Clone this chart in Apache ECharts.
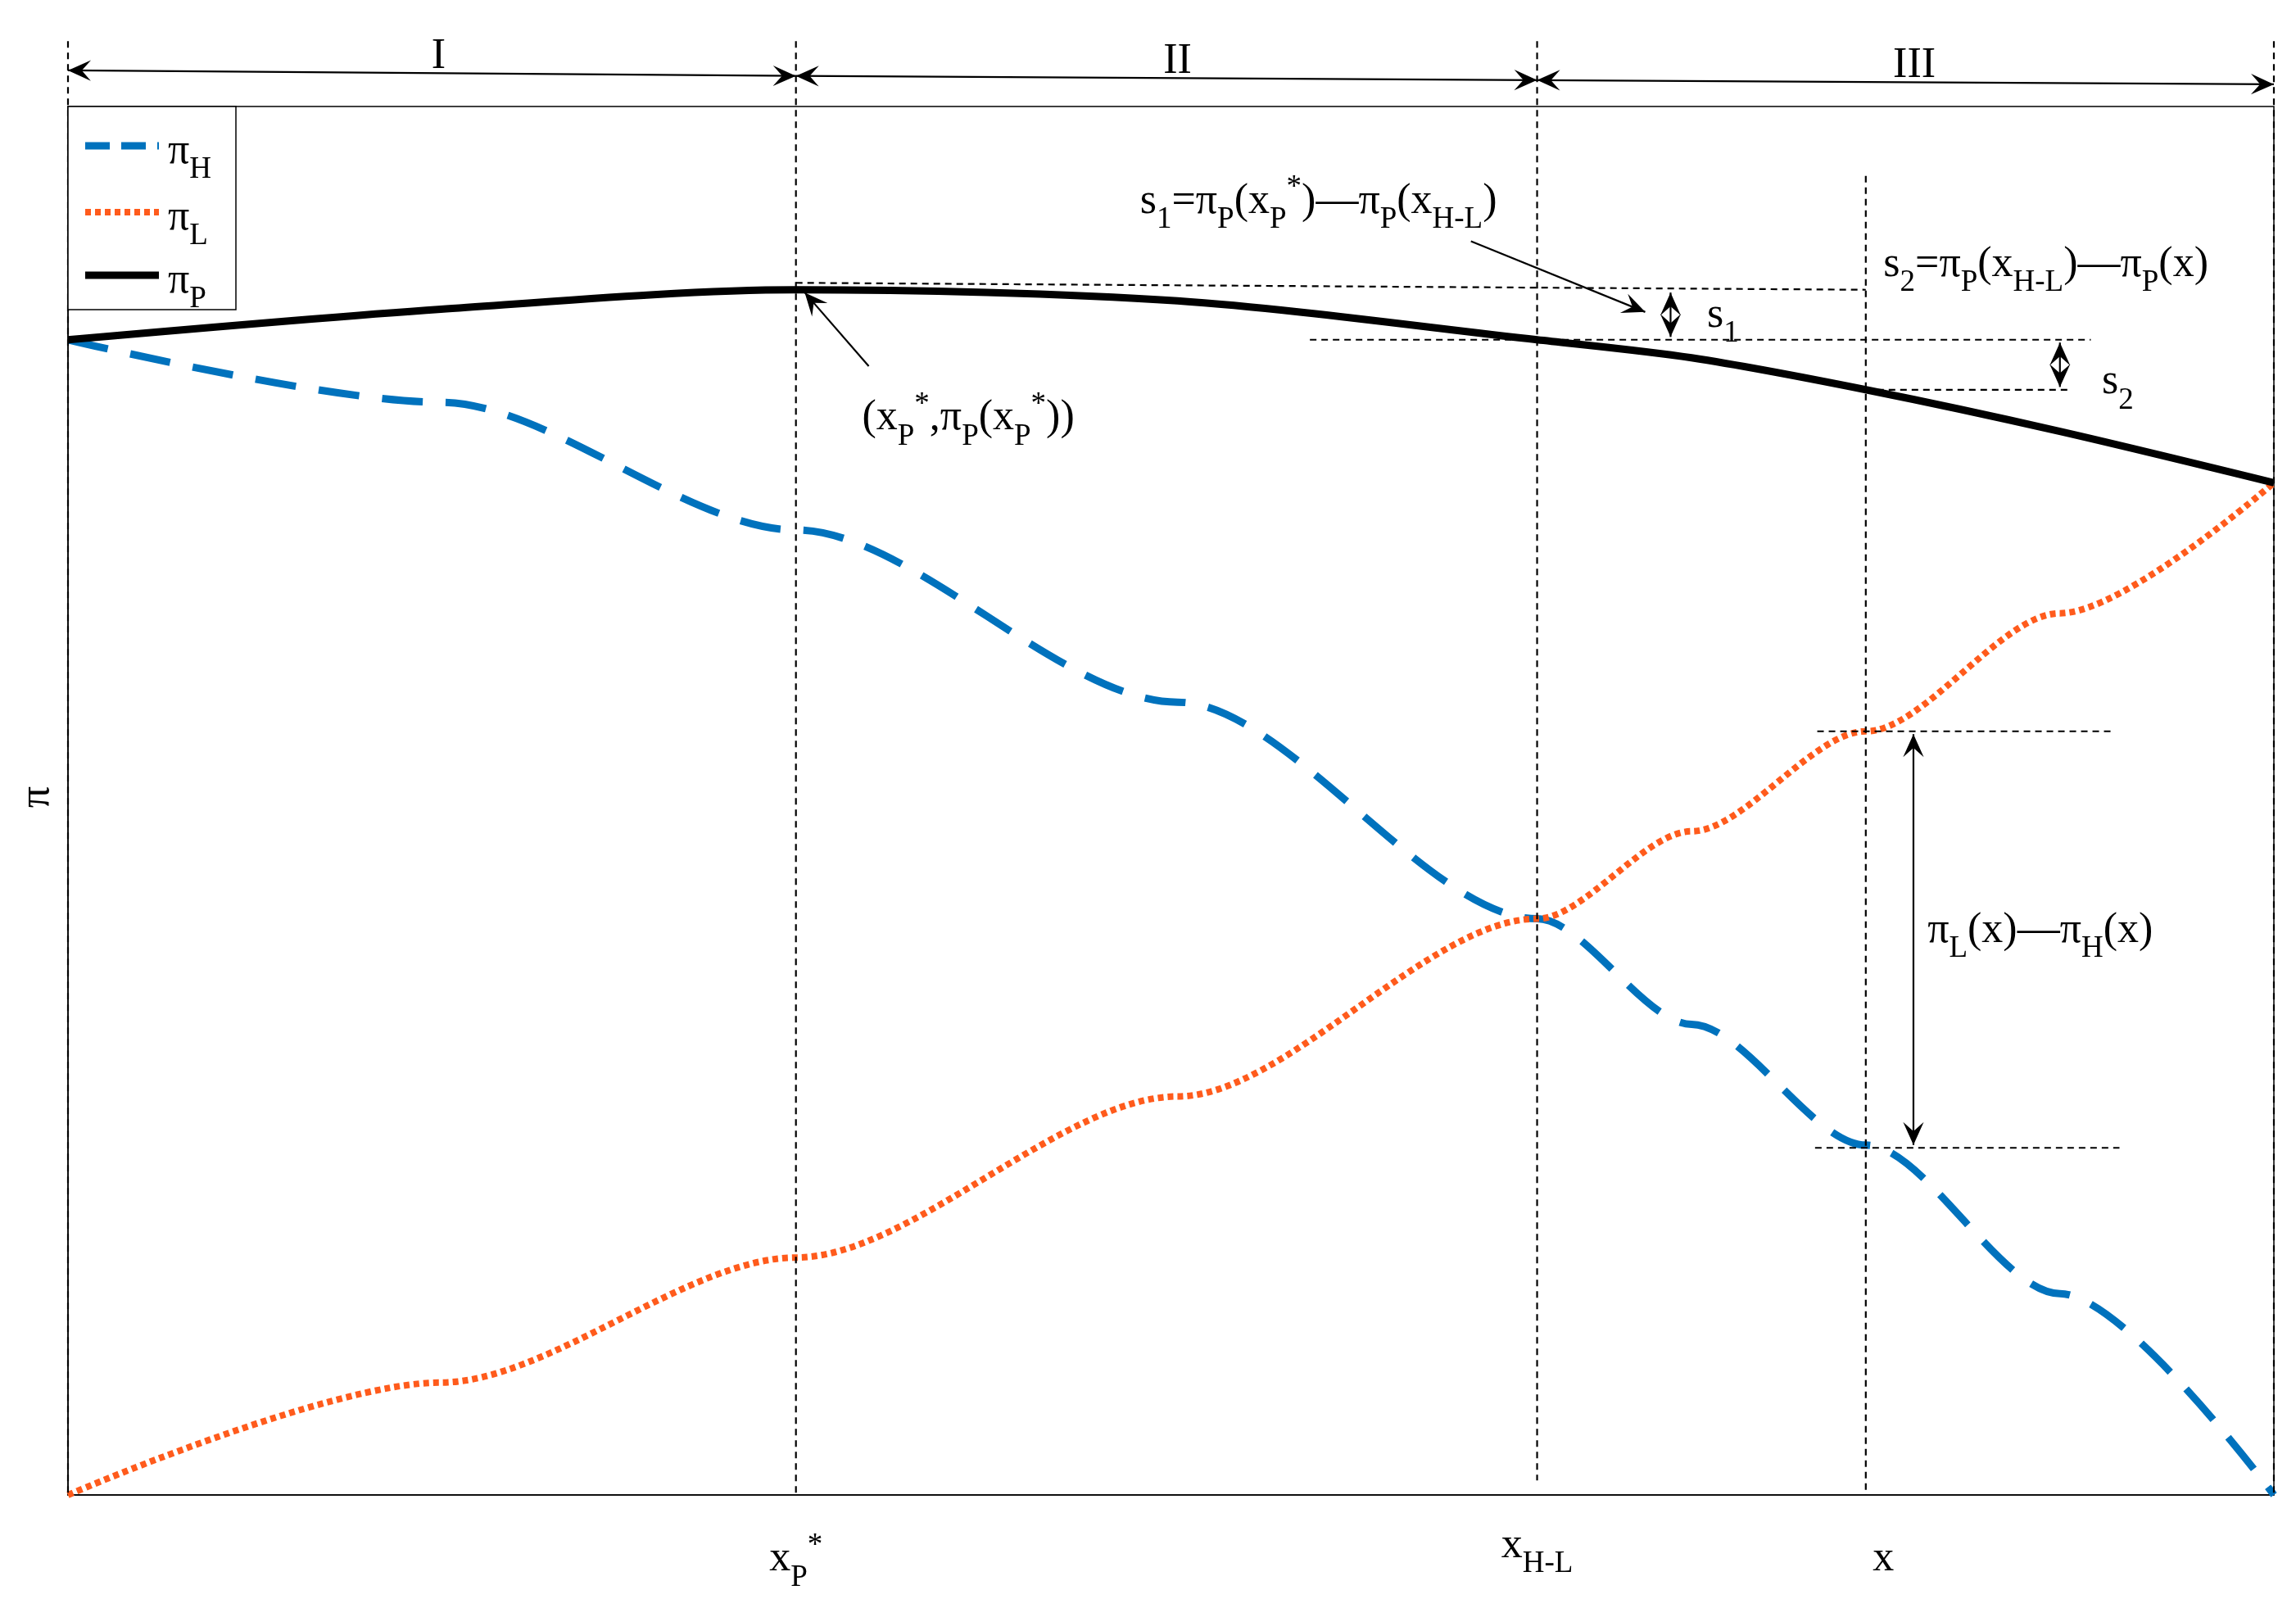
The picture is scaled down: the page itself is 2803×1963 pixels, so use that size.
<!DOCTYPE html>
<html><head><meta charset="utf-8">
<script src="https://cdn.jsdelivr.net/npm/echarts@6/dist/echarts.min.js"></script>
<style>html,body{margin:0;background:#fff}#c{width:2803px;height:1963px}</style>
</head><body><div id="c"></div>
<script>
// x 位置 (0..1) 与三条曲线取值
var xs  = [0, 0.169, 0.33, 0.503, 0.666, 0.736, 0.815, 0.903, 1];
var piH = [0.832, 0.787, 0.695, 0.571, 0.415, 0.339, 0.252, 0.145, 0];
var piL = [0, 0.081, 0.171, 0.287, 0.415, 0.478, 0.550, 0.635, 0.729];
var piP = [0.832, 0.854, 0.868, 0.860, 0.832, 0.819, 0.796, 0.766, 0.729];
var xStar = 0.33, xHL = 0.666, xX = 0.815;

var FONT = 'Liberation Serif';
function pairs(ys) { return xs.map(function (x, i) { return [x, ys[i]]; }); }

var chart = echarts.init(document.getElementById('c'));
chart.setOption({
    animation: false,
    grid: {left: 83, right: 27, top: 130, bottom: 138, show: true, borderColor: '#000', borderWidth: 1.5},
    xAxis: {type: 'value', min: 0, max: 1, axisLabel: {show: false}, axisTick: {show: false}, splitLine: {show: false},
        axisLine: {lineStyle: {color: '#000', width: 1.5}}},
    yAxis: {type: 'value', min: 0, max: 1, axisLabel: {show: false}, axisTick: {show: false}, splitLine: {show: false},
        axisLine: {lineStyle: {color: '#000', width: 1.5}}},
    series: [
        {type: 'line', smooth: 0.3, smoothMonotone: 'x', symbol: 'none', data: pairs(piH), z: 3,
            lineStyle: {color: '#0072bd', width: 9, type: [50, 28]}},
        {type: 'line', smooth: 0.3, smoothMonotone: 'x', symbol: 'none', data: pairs(piL), z: 3,
            lineStyle: {color: '#ff5b1c', width: 8, type: [7, 5]}},
        {type: 'line', smooth: 0.3, symbol: 'none', data: pairs(piP), z: 4,
            lineStyle: {color: '#000', width: 9}}
    ]
});

function P(x, y) { return chart.convertToPixel({gridIndex: 0}, [x, y]); }
var g = [];
function dline(a, b) {
    g.push({type: 'line', shape: {x1: a[0], y1: a[1], x2: b[0], y2: b[1]},
        style: {stroke: '#000', lineWidth: 2.2, lineDash: [8, 6]}, z: 5});
}
function head(a, b, len) {
    var ang = Math.atan2(b[1] - a[1], b[0] - a[0]), w = len * 0.45;
    g.push({type: 'polygon', shape: {points: [b,
        [b[0] - len * Math.cos(ang) + w * Math.sin(ang), b[1] - len * Math.sin(ang) - w * Math.cos(ang)],
        [b[0] - len * 0.6 * Math.cos(ang), b[1] - len * 0.6 * Math.sin(ang)],
        [b[0] - len * Math.cos(ang) - w * Math.sin(ang), b[1] - len * Math.sin(ang) + w * Math.cos(ang)]]},
        style: {fill: '#000'}, z: 6});
}
function arrow(a, b, both) {
    g.push({type: 'line', shape: {x1: a[0], y1: a[1], x2: b[0], y2: b[1]}, style: {stroke: '#000', lineWidth: 2.2}, z: 6});
    head(a, b, 28);
    if (both) head(b, a, 28);
}
var rich = {
    n: {fontFamily: FONT, fontSize: 52, lineHeight: 74, verticalAlign: 'bottom'},
    s: {fontFamily: FONT, fontSize: 37, lineHeight: 74, verticalAlign: 'bottom', padding: [0, 0, -15, 0]},
    u: {fontFamily: FONT, fontSize: 37, lineHeight: 74, verticalAlign: 'bottom', padding: [0, 0, 24, 0]}
};
function txt(p, text, align) {
    g.push({type: 'text', x: p[0], y: p[1], z: 7,
        style: {text: text, rich: rich, align: align || 'left', verticalAlign: 'middle', fill: '#000'}});
}

// 竖直虚线
dline(P(0, 1.047), P(0, 0));
dline(P(xStar, 1.047), P(xStar, 0));
dline(P(xHL, 1.047), P(xHL, 0.0105));
dline(P(xX, 0.95), P(xX, 0));
dline(P(1, 1.047), P(1, 0));
// 顶部区间箭头
arrow(P(0.0, 1.026), P(xStar, 1.022), true);
arrow(P(xStar, 1.022), P(xHL, 1.019), true);
arrow(P(xHL, 1.019), P(1, 1.016), true);
txt(P(0.168, 1.042), '{n|I}', 'center');
txt(P(0.503, 1.039), '{n|II}', 'center');
txt(P(0.837, 1.036), '{n|III}', 'center');

// 水平参考虚线
dline(P(xStar, 0.873), P(xX, 0.868));
dline(P(0.563, 0.832), P(0.917, 0.832));
dline(P(xX, 0.796), P(0.907, 0.796));
dline(P(0.793, 0.550), P(0.928, 0.550));
dline(P(0.792, 0.250), P(0.930, 0.250));

arrow(P(0.7265, 0.866), P(0.7265, 0.834), true);
arrow(P(0.903, 0.830), P(0.903, 0.798), true);
arrow(P(0.8366, 0.548), P(0.8366, 0.252), true);
arrow(P(0.636, 0.903), P(0.715, 0.852));
arrow(P(0.363, 0.813), P(0.334, 0.866));

txt(P(0.486, 0.938), '{n|s}{s|1}{n|=π}{s|P}{n|(x}{s|P}{u|*}{n|)—π}{s|P}{n|(x}{s|H-L}{n|)}');
txt(P(0.743, 0.856), '{n|s}{s|1}');
txt(P(0.922, 0.808), '{n|s}{s|2}');
txt(P(0.823, 0.8925), '{n|s}{s|2}{n|=π}{s|P}{n|(x}{s|H-L}{n|)—π}{s|P}{n|(x)}');
txt(P(0.36, 0.782), '{n|(x}{s|P}{u|*}{n|,π}{s|P}{n|(x}{s|P}{u|*}{n|))}');
txt(P(0.843, 0.413), '{n|π}{s|L}{n|(x)—π}{s|H}{n|(x)}');

// 坐标轴标签
txt(P(xStar, -0.04), '{n|x}{s|P}{u|*}', 'center');
txt(P(xHL, -0.03), '{n|x}{s|H-L}', 'center');
txt(P(0.823, -0.04), '{n|x}', 'center');
g.push({type: 'text', x: 45, y: 973, rotation: Math.PI / 2, z: 7,
    style: {text: 'π', font: '52px ' + FONT, align: 'center', verticalAlign: 'middle', fill: '#000'}});

// 图例
g.push({type: 'rect', shape: {x: 83, y: 130, width: 205, height: 248}, style: {fill: '#fff', stroke: '#000', lineWidth: 1.5}, z: 8});
var leg = [
    {y: 178, c: '#0072bd', d: [30, 14], w: 9, t: '{n|π}{s|H}'},
    {y: 259, c: '#ff5b1c', d: [7, 5], w: 8, t: '{n|π}{s|L}'},
    {y: 336, c: '#000', d: null, w: 9, t: '{n|π}{s|P}'}
];
leg.forEach(function (e) {
    g.push({type: 'line', shape: {x1: 104, y1: e.y, x2: 194, y2: e.y}, z: 9,
        style: {stroke: e.c, lineWidth: e.w, lineDash: e.d}});
    g.push({type: 'text', x: 205, y: e.y - 4, z: 9,
        style: {text: e.t, rich: rich, verticalAlign: 'middle', fill: '#000'}});
});

chart.setOption({graphic: g});
</script></body></html>
